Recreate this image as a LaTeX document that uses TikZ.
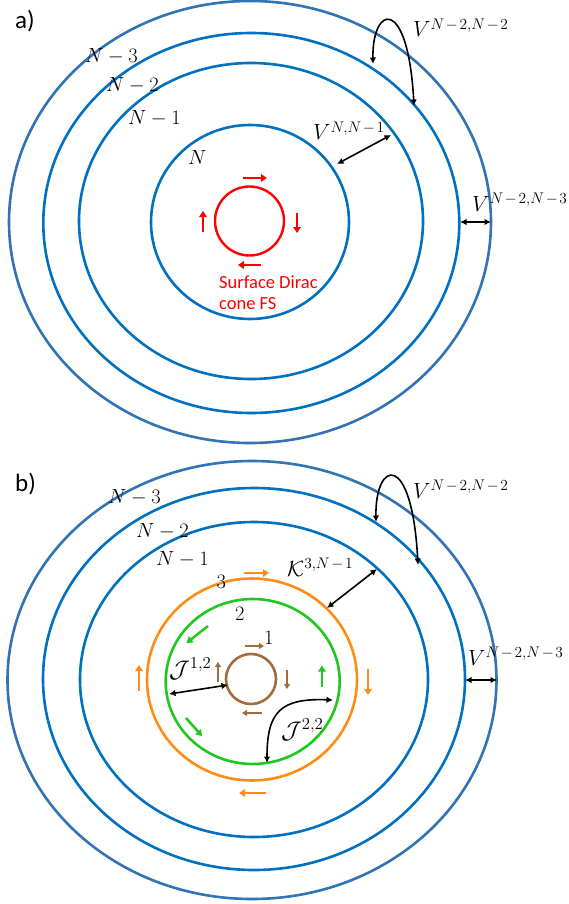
\RequirePackage{fix-cm}
\documentclass[tikz,border=0pt]{standalone}
\usepackage{fontspec}
\newfontfamily\calib{Carlito}
\usetikzlibrary{arrows.meta}
\definecolor{ringblue}{RGB}{0,112,192}
\definecolor{outerblue}{RGB}{50,115,180}
\definecolor{spred}{RGB}{255,0,0}
\definecolor{sporange}{RGB}{255,140,20}
\definecolor{spgreen}{RGB}{30,200,30}
\definecolor{spbrown}{RGB}{160,110,60}
\tikzset{
  ring/.style={line width=2.6pt},
  bk/.style={line width=1.6pt,{Latex[length=6.5pt,width=6.5pt]}-{Latex[length=6.5pt,width=6.5pt]}},
  spin/.style={line width=2.5pt,-{Triangle[length=6pt,width=7.5pt]}},
  spinsmall/.style={line width=2pt,-{Triangle[length=5pt,width=6pt]}},
  nlab/.style={inner sep=0pt,anchor=base west,font=\fontsize{20.5}{24}\selectfont},
  vlab/.style={inner sep=0pt,anchor=base west,font=\fontsize{22}{26}\selectfont},
  jlab/.style={inner sep=0pt,anchor=base west,font=\fontsize{24}{28}\selectfont},
  tlab/.style={inner sep=0pt,anchor=base west,font=\calib\fontsize{25}{28}\selectfont},
}
\newcommand{\sm}{\mkern2mu{-}\mkern2mu}
\begin{document}
\begin{tikzpicture}[x=1pt,y=-1pt]
\fill[white] (0,0) rectangle (568,904);
\useasboundingbox (0,0) rectangle (568,904);

% ---------------- panel a ----------------
\node[tlab] (pa) at (15,28.5) {a)};
\draw[ring,outerblue] (250,222) ellipse [x radius=241pt,y radius=221pt];
\draw[ring,ringblue] (251.3,223) ellipse [x radius=208pt,y radius=190pt];
\draw[ring,ringblue] (251,221) ellipse [x radius=172pt,y radius=158pt];
\draw[ring,ringblue] (250,222) ellipse [x radius=99pt,y radius=97pt];
\draw[line width=2.4pt,spred] (249.5,221) circle [radius=34.5pt];

\node[nlab] (a3) at (85,62.7) {$N-3$};
\node[nlab] (a2) at (106,91.7) {$N-2$};
\node[nlab] (a1) at (128,124.3) {$N-1$};
\node[nlab] (a0) at (188,164.3) {$N$};

% spin arrows a
\coordinate (ra1) at (243,178); \coordinate (ra2) at (267,178);
\coordinate (rb1) at (297,212.5); \coordinate (rb2) at (297,233);
\coordinate (rc1) at (261,265); \coordinate (rc2) at (238,265);
\coordinate (rd1) at (203,231.5); \coordinate (rd2) at (203,211);
\draw[spin,spred] (ra1) -- (ra2);
\draw[spin,spred] (rb1) -- (rb2);
\draw[spin,spred] (rc1) -- (rc2);
\draw[spin,spred] (rd1) -- (rd2);
\node[inner sep=0pt,anchor=base west,text=spred,font=\calib\fontsize{18.5}{21}\selectfont] (sdc1) at (219,288.3) {Surface Dirac};
\node[inner sep=0pt,anchor=base west,text=spred,font=\calib\fontsize{18.5}{21}\selectfont] (sdc2) at (219,309.5) {cone FS};

% black arrows a
\coordinate (va1) at (373,64); \coordinate (va2) at (414,106);
\draw[bk] (va1) .. controls (372,5) and (408,-5) .. (va2);
\node[vlab] (vla1) at (413,37) {$V^{N\sm2,N\sm2}$};
\coordinate (vb1) at (337,164); \coordinate (vb2) at (391,135);
\draw[bk] (vb1) -- (vb2);
\node[vlab] (vlb1) at (313,140) {$V^{N,N\sm1}$};
\coordinate (vc1) at (460,222); \coordinate (vc2) at (491,222);
\draw[bk] (vc1) -- (vc2);
\node[vlab] (vlc1) at (472,211.5) {$V^{N\sm2,N\sm3}$};

% ---------------- panel b ----------------
\node[tlab] (pb) at (15,491.7) {b)};
\draw[ring,outerblue] (252,680) ellipse [x radius=244.5pt,y radius=219pt];
\draw[ring,ringblue] (254,679) ellipse [x radius=211pt,y radius=191pt];
\draw[ring,ringblue] (254,679.5) ellipse [x radius=174pt,y radius=157.5pt];
\draw[ring,sporange] (252,679.5) ellipse [x radius=105pt,y radius=101pt];
\draw[ring,spgreen] (252.7,681.5) ellipse [x radius=87pt,y radius=82.5pt];
\draw[ring,spbrown] (251,679) circle [radius=25pt];

\node[nlab] (b3) at (108,503.5) {$N-3$};
\node[nlab] (b2) at (136,537.7) {$N-2$};
\node[nlab] (b1) at (156,565.7) {$N-1$};
\node[nlab] (k3) at (216.5,588.3) {$3$};
\node[nlab] (k2) at (235,620) {$2$};
\node[nlab] (k1) at (264,644) {$1$};

% orange spins
\coordinate (oa1) at (244,573); \coordinate (oa2) at (269,573);
\coordinate (ob1) at (368,669); \coordinate (ob2) at (368,695);
\coordinate (oc1) at (266,793); \coordinate (oc2) at (239,793);
\coordinate (od1) at (139,691); \coordinate (od2) at (139,665);
\draw[spin,sporange] (oa1) -- (oa2);
\draw[spin,sporange] (ob1) -- (ob2);
\draw[spin,sporange] (oc1) -- (oc2);
\draw[spin,sporange] (od1) -- (od2);
% green spins
\coordinate (ga1) at (208,626); \coordinate (ga2) at (186.5,643);
\coordinate (gb1) at (186,718); \coordinate (gb2) at (202,736);
\coordinate (gc1) at (322,687); \coordinate (gc2) at (322,665.5);
\draw[spin,spgreen] (ga1) -- (ga2);
\draw[spin,spgreen] (gb1) -- (gb2);
\draw[spin,spgreen] (gc1) -- (gc2);
% brown spins
\coordinate (ba1) at (245,646); \coordinate (ba2) at (264,646);
\coordinate (bb1) at (287,669.5); \coordinate (bb2) at (287,689);
\coordinate (bc1) at (262,713); \coordinate (bc2) at (242,713);
\coordinate (bd1) at (218,681.5); \coordinate (bd2) at (218,662);
\draw[spinsmall,spbrown] (ba1) -- (ba2);
\draw[spinsmall,spbrown] (bb1) -- (bb2);
\draw[spinsmall,spbrown] (bc1) -- (bc2);
\draw[spinsmall,spbrown] (bd1) -- (bd2);

% black arrows b
\coordinate (wa1) at (376,522); \coordinate (wa2) at (418,565);
\draw[bk] (wa1) .. controls (375,460) and (412,450) .. (wa2);
\node[vlab] (wla) at (413,498) {$V^{N\sm2,N\sm2}$};
\coordinate (wk1) at (327,608); \coordinate (wk2) at (377,569);
\draw[bk] (wk1) -- (wk2);
\node[vlab] (wlk) at (287,576.5) {$\mathcal{K}^{3,N\sm1}$};
\coordinate (wc1) at (465,680); \coordinate (wc2) at (497,680);
\draw[bk] (wc1) -- (wc2);
\node[vlab] (wlc) at (468,665) {$V^{N\sm2,N\sm3}$};
\coordinate (j1a) at (169,694); \coordinate (j1b) at (228,685);
\draw[bk] (j1a) -- (j1b);
\node[jlab] (jl1) at (169,677) {$\mathcal{J}^{1,2}$};
\coordinate (j2a) at (333,700); \coordinate (j2b) at (267,763);
\draw[bk] (j2a) .. controls (280,698) and (267,712) .. (j2b);
\node[jlab] (jl2) at (281,738) {$\mathcal{J}^{2,2}$};
\end{tikzpicture}
\end{document}
